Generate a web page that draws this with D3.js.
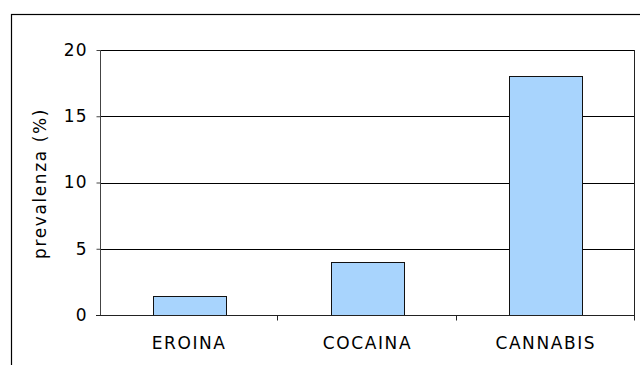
<!DOCTYPE html>
<html>
<head>
<meta charset="utf-8">
<script src="https://cdn.jsdelivr.net/npm/d3@7"></script>
<style>
  body { margin: 0; background: #fff; }
  text { font-family: "DejaVu Sans", Verdana, sans-serif; fill: #000; }
</style>
</head>
<body>
<div id="chart"></div>
<script>
let categories = ["EROINA", "COCAINA", "CANNABIS"]
let values = [1.4, 4.0, 18.0]
let yTicks = [0, 5, 10, 15, 20]
let yLabel = "prevalenza (%)"

let W = 640, H = 365
let margin = {top: 50, right: 5, bottom: 50, left: 100},
    width = W - margin.left - margin.right,
    height = H - margin.top - margin.bottom

let svg = d3.select('#chart').append('svg')
    .attr("width", W)
    .attr("height", H)

// outer frame
svg.append("rect")
    .attr("x", 11.5).attr("y", 14.5)
    .attr("width", 700).attr("height", 400)
    .attr("fill", "none").attr("stroke", "#000").attr("stroke-width", 1.2)

let g = svg.append("g")
    .attr("transform", "translate(" + margin.left + "," + margin.top + ")")

let x = d3.scaleBand().domain(categories).range([0, width])
    .paddingInner(0.59).paddingOuter(0.295)
let y = d3.scaleLinear().domain([0, 20]).range([height, 0])

// gridlines
g.selectAll(".grid").data(yTicks.filter(d => d > 0)).enter().append("line")
    .attr("x1", 0).attr("x2", width)
    .attr("y1", d => Math.round(y(d)) + 0.5).attr("y2", d => Math.round(y(d)) + 0.5)
    .attr("stroke", "#000")

// right border
g.append("line")
    .attr("x1", width - 0.5).attr("x2", width - 0.5)
    .attr("y1", 0).attr("y2", height)
    .attr("stroke", "#222")

// bars
g.selectAll(".bar").data(values).enter().append("rect")
    .attr("x", (d, i) => Math.round(x(categories[i])) + 0.5)
    .attr("width", Math.round(x.bandwidth()))
    .attr("y", d => Math.round(y(d)) + 0.5)
    .attr("height", d => Math.round(height - y(d)))
    .attr("fill", "#a8d4fd")
    .attr("stroke", "#111")

// y axis
let yAxis = g.append("g")
    .attr("transform", "translate(0.5,0)")
    .call(d3.axisLeft(y).tickValues(yTicks).tickSize(4).tickPadding(9))
yAxis.select(".domain").attr("stroke", "#444").attr("d", "M0,0V" + height)
yAxis.selectAll(".tick line").attr("stroke", "#444")
yAxis.selectAll("text").attr("font-size", 17).attr("letter-spacing", 1)
    .attr("font-family", "DejaVu Sans")

// x axis
let bounds = categories.map((c, i) => x.step() * (i + 1))
let xAxis = g.append("g").attr("transform", "translate(0," + (height + 0.5) + ")")
xAxis.append("line").attr("x1", -4).attr("x2", width).attr("stroke", "#222")
xAxis.selectAll(".xt").data(bounds).enter().append("line")
    .attr("x1", d => Math.round(d) - 0.5).attr("x2", d => Math.round(d) - 0.5)
    .attr("y1", 0).attr("y2", 5).attr("stroke", "#222")
xAxis.selectAll(".xl").data(categories).enter().append("text")
    .attr("x", d => x(d) + x.bandwidth() / 2)
    .attr("y", 33)
    .attr("text-anchor", "middle")
    .attr("font-size", 17)
    .attr("letter-spacing", 1.6)
    .text(d => d)

// y label
svg.append("text")
    .attr("transform", "translate(46," + (margin.top + height / 2 + 1) + ") rotate(-90)")
    .attr("text-anchor", "middle")
    .attr("font-size", 17)
    .attr("letter-spacing", 1.6)
    .text(yLabel)
</script>
</body>
</html>
